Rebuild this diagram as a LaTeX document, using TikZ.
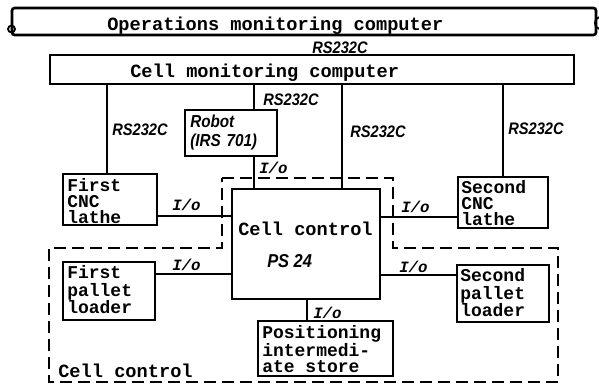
\documentclass[tikz,border=0pt]{standalone}
\usepackage{fontspec}
\setmonofont{Liberation Mono}
\newfontfamily\labfont[FakeStretch=0.88]{Liberation Sans}
\usetikzlibrary{fit}
\begin{document}
\begin{tikzpicture}[x=0.75pt,y=-0.75pt,
  box/.style={draw, line width=2pt, inner sep=0pt},
  conn/.style={line width=1.6pt},
  mtxt/.style={anchor=base west, inner sep=0pt, font=\ttfamily\bfseries\fontsize{14}{14}\selectfont},
  btxt/.style={anchor=north west, inner sep=0pt, align=left, font=\ttfamily\bfseries\fontsize{13.5}{12}\selectfont},
  rslab/.style={anchor=base west, inner sep=0pt, font=\labfont\bfseries\itshape\fontsize{12.5}{13}\selectfont},
  iolab/.style={anchor=base west, inner sep=0pt, font=\ttfamily\bfseries\itshape\fontsize{11.8}{12}\selectfont},
  bound/.style={dash pattern=on 9pt off 4.5pt, line width=1.6pt}]
\fill[white] (0,0) rectangle (599,387);
\useasboundingbox (0,0) rectangle (599,387);

% boxes
\node[box, rounded corners=2pt, fit={(12,8) (596,35)}] (ops) {};
\node[box, fit={(50,55) (574,84)}] (cmc) {};
\node[box, fit={(185,110) (277,156)}] (robot) {};
\node[box, fit={(232,189) (380,299)}] (cc) {};
\node[box, fit={(63,174) (157,225)}] (fcnc) {};
\node[box, fit={(458,177) (548,228)}] (scnc) {};
\node[box, fit={(63,262) (155,320)}] (fpl) {};
\node[box, fit={(457,265) (549,322)}] (spl) {};
\node[box, fit={(258,321) (393,376)}] (pos) {};

% end marks of the top box
\draw[line width=1.4pt] (11.5,29) circle[radius=2.6pt];
\draw[line width=1.4pt] (601,23) circle[radius=4.5pt];

% helper coordinates
\coordinate (xa) at (107,0);
\coordinate (xr) at (254,0);
\coordinate (xc) at (342,0);
\coordinate (xb) at (503,0);
\coordinate (xp) at (307,0);
\coordinate (ya) at (0,216);
\coordinate (yb) at (0,217);
\coordinate (yc) at (0,274);
\coordinate (yd) at (0,275);

% connectors
\draw[conn] (xa |- cmc.south) -- (xa |- fcnc.north);
\draw[conn] (xr |- cmc.south) -- (xr |- robot.north);
\draw[conn] (xc |- cmc.south) -- (xc |- cc.north);
\draw[conn] (xb |- cmc.south) -- (xb |- scnc.north);
\draw[conn] (xr |- robot.south) -- (xr |- cc.north);
\draw[conn] (fcnc.east |- ya) -- (cc.west |- ya);
\draw[conn] (cc.east |- yb) -- (scnc.west |- yb);
\draw[conn] (fpl.east |- yc) -- (cc.west |- yc);
\draw[conn] (cc.east |- yd) -- (spl.west |- yd);
\draw[conn] (xp |- cc.south) -- (xp |- pos.north);

% dashed cell-control boundary
\draw[bound] (222,178) -- (393,178) -- (393,248) -- (558,248) -- (558,382)
  -- (49,382) -- (49,248) -- (222,248) -- cycle;

% texts
\node[mtxt] (tops) at (107,30) {Operations monitoring computer};
\node[mtxt] (tcmc) at (130,77) {Cell monitoring computer};
\node[mtxt] (tcc) at (238,235) {Cell control};
\node[mtxt] (tcl) at (58,377) {Cell control};

\node[btxt] (tf) at (67,178) {First\\CNC\\lathe};
\node[btxt] (ts) at (461,180) {Second\\CNC\\lathe};
\node[btxt, font=\ttfamily\bfseries\fontsize{13.5}{13.3}\selectfont] (tp) at (67,265) {First\\pallet\\loader};
\node[btxt, font=\ttfamily\bfseries\fontsize{13.5}{13.3}\selectfont] (tq) at (460,268) {Second\\pallet\\loader};
\node[btxt, font=\ttfamily\bfseries\fontsize{13.5}{12.3}\selectfont] (tg) at (262,325) {Positioning\\intermedi-\\ate store};

\node[rslab] (r0) at (312,53) {RS232C};
\node[rslab] (r1) at (112,135) {RS232C};
\node[rslab] (r2) at (263,105) {RS232C};
\node[rslab] (r3) at (350,137) {RS232C};
\node[rslab] (r4) at (508,134) {RS232C};
\node[anchor=north west, inner sep=0pt, align=left, font=\labfont\bfseries\itshape\fontsize{13}{14}\selectfont] (trb) at (190,115) {Robot\\(IRS\,\,701)};
\node[rslab, font=\labfont\bfseries\itshape\fontsize{14}{14}\selectfont] (ps) at (267,267) {PS 24};

\node[iolab] (i1) at (259,173) {I/o};
\node[iolab] (i2) at (172,210) {I/o};
\node[iolab] (i3) at (401,212) {I/o};
\node[iolab] (i4) at (172,270) {I/o};
\node[iolab] (i5) at (399,272) {I/o};
\node[iolab] (i6) at (313,318) {I/o};
\end{tikzpicture}
\end{document}
